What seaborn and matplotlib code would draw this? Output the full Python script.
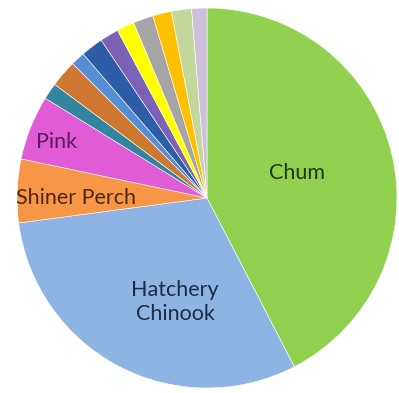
import matplotlib
matplotlib.use("Agg")
import matplotlib.pyplot as plt
import seaborn as sns

sns.set_theme(style="white")
plt.rcParams["font.family"] = ["Lato", "DejaVu Sans"]

# Share of catch by species (percent), clockwise from 12 o'clock
labels = ["Chum", "Hatchery\nChinook", "Shiner Perch", "Pink",
          "", "", "", "", "", "", "", "", "", ""]
shares = [42.4, 30.5, 5.4, 5.5, 1.4, 2.3, 1.2, 1.9, 1.6, 1.5, 1.7, 1.6, 1.7, 1.3]
colors = ["#92D050", "#8DB4E2", "#F79646", "#E25BD6", "#31859C", "#CF7832",
          "#558ED5", "#2E5DA8", "#7B62B5", "#FFFF00", "#A5A5A5", "#FFC000",
          "#C4D79B", "#CCC0DA"]
label_colors = ["#22361A", "#1E2D42", "#4E2814", "#5C1A58"]
label_xy = [(0.474, 0.132), (-0.168, -0.545), (-0.69, 0.0), (-0.79, 0.295)]

fig = plt.figure(figsize=(3.99, 3.93), dpi=100)
ax = fig.add_axes([(207 - 190) / 399, (393 - 388) / 393, 380 / 399, 380 / 393])
ax.pie(shares, colors=colors, startangle=90, counterclock=False, radius=1.0,
       wedgeprops=dict(edgecolor="white", linewidth=0.4))
for lab, col, (x, y) in zip(labels, label_colors, label_xy):
    ax.text(x, y, lab, ha="center", va="center", color=col, fontsize=15.5,
            linespacing=1.25)
ax.set_xlim(-1, 1)
ax.set_ylim(-1, 1)
ax.set_axis_off()
fig.savefig("out.png", dpi=100)
